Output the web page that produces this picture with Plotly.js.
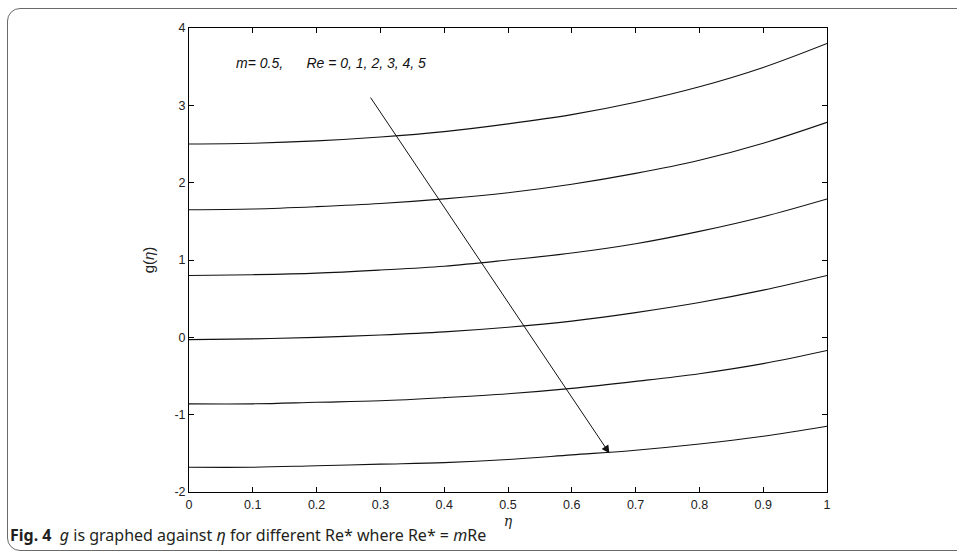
<!DOCTYPE html>
<html>
<head>
<meta charset="utf-8">
<script src="https://cdn.plot.ly/plotly-3.0.1.min.js"></script>
<style>
  html, body { margin: 0; padding: 0; background: #fff; }
  #wrap { position: relative; width: 957px; height: 554px; overflow: hidden; }
  #frame { position: absolute; left: 7px; top: 8px; width: 980px; height: 543px;
           border: 1.3px solid #6a6a6a; border-radius: 13px; box-sizing: border-box; }
  #chart { position: absolute; left: 0; top: 0; width: 957px; height: 554px; }
</style>
</head>
<body>
<div id="wrap">
  <div id="frame"></div>
  <div id="chart"></div>
</div>
<script>
// eta values
const eta = [0, 0.1, 0.2, 0.3, 0.4, 0.5, 0.6, 0.7, 0.8, 0.9, 1.0];
// g(eta) for Re = 0..5 (m = 0.5)
const gRe0 = [2.50, 2.51, 2.54, 2.59, 2.66, 2.76, 2.88, 3.04, 3.24, 3.49, 3.80];
const gRe1 = [1.65, 1.66, 1.69, 1.73, 1.79, 1.87, 1.98, 2.12, 2.29, 2.51, 2.78];
const gRe2 = [0.80, 0.81, 0.83, 0.87, 0.92, 1.00, 1.09, 1.21, 1.37, 1.56, 1.79];
const gRe3 = [-0.03, -0.02, 0.00, 0.03, 0.07, 0.13, 0.21, 0.32, 0.45, 0.61, 0.80];
const gRe4 = [-0.86, -0.86, -0.84, -0.82, -0.78, -0.73, -0.66, -0.57, -0.47, -0.34, -0.17];
const gRe5 = [-1.68, -1.68, -1.66, -1.64, -1.62, -1.58, -1.52, -1.46, -1.38, -1.28, -1.15];
const seriesNames = ['Re = 0', 'Re = 1', 'Re = 2', 'Re = 3', 'Re = 4', 'Re = 5'];
const xTicks = [0, 0.1, 0.2, 0.3, 0.4, 0.5, 0.6, 0.7, 0.8, 0.9, 1];
const xTickText = ['0', '0.1', '0.2', '0.3', '0.4', '0.5', '0.6', '0.7', '0.8', '0.9', '1'];
const yTicks = [-2, -1, 0, 1, 2, 3, 4];
const yTickText = ['-2', '-1', '0', '1', '2', '3', '4'];
// arrow from/to (data coordinates)
const arrowFrom = [0.283, 3.12];
const arrowTo = [0.659, -1.50];

const allSeries = [gRe0, gRe1, gRe2, gRe3, gRe4, gRe5];
const traces = allSeries.map((g, i) => ({
  x: eta, y: g, type: 'scatter', mode: 'lines', name: seriesNames[i],
  line: { color: '#111', width: 1.1, shape: 'spline', smoothing: 1 },
  hoverinfo: 'skip'
}));

const axisCommon = {
  showline: true, linecolor: '#000', linewidth: 1, mirror: 'ticks',
  ticks: 'inside', ticklen: 5, tickwidth: 1, tickcolor: '#000',
  showgrid: false, zeroline: false,
  tickfont: { family: 'Liberation Sans, Arial, sans-serif', size: 12.5, color: '#222' }
};

const layout = {
  width: 957, height: 554,
  margin: { l: 189, r: 130, t: 28, b: 62 },
  paper_bgcolor: 'rgba(0,0,0,0)', plot_bgcolor: '#fff',
  showlegend: false,
  xaxis: Object.assign({}, axisCommon, {
    range: [0, 1], tickvals: xTicks, ticktext: xTickText, ticklabelstandoff: 1,
    title: { text: 'η', font: { family: 'DejaVu Serif, serif', size: 14, color: '#222', style: 'italic' }, standoff: 5 }
  }),
  yaxis: Object.assign({}, axisCommon, {
    range: [-2, 4], tickvals: yTicks, ticktext: yTickText,
    title: { text: 'g(<i>η</i>)', font: { family: 'Liberation Sans, Arial, sans-serif', size: 15, color: '#222' }, standoff: 16 }
  }),
  annotations: [
    {
      x: arrowTo[0], y: arrowTo[1], ax: arrowFrom[0], ay: arrowFrom[1],
      xref: 'x', yref: 'y', axref: 'x', ayref: 'y',
      showarrow: true, arrowhead: 2, arrowsize: 1.6, arrowwidth: 1, arrowcolor: '#111',
      standoff: 0, text: ''
    },
    {
      x: 0.07, y: 3.55, xref: 'x', yref: 'y', xanchor: 'left', yanchor: 'middle',
      showarrow: false,
      text: '<i>m= 0.5,&nbsp;&nbsp;&nbsp;&nbsp;&nbsp;&nbsp;Re = 0, 1, 2, 3, 4, 5</i>',
      font: { family: 'Liberation Sans, Arial, sans-serif', size: 14, color: '#111' }
    },
    {
      x: -0.2837, y: -0.092, xref: 'paper', yref: 'paper', xanchor: 'left', yanchor: 'middle',
      showarrow: false,
      text: '<b>Fig. 4</b>  <i>g</i> is graphed against <i>η</i> for different Re* where Re* = <i>m</i>Re',
      font: { family: 'Noto Sans, Open Sans, sans-serif', size: 16, color: '#231f20' }
    }
  ]
};

Plotly.newPlot('chart', traces, layout, { staticPlot: true, displayModeBar: false });
</script>
</body>
</html>
